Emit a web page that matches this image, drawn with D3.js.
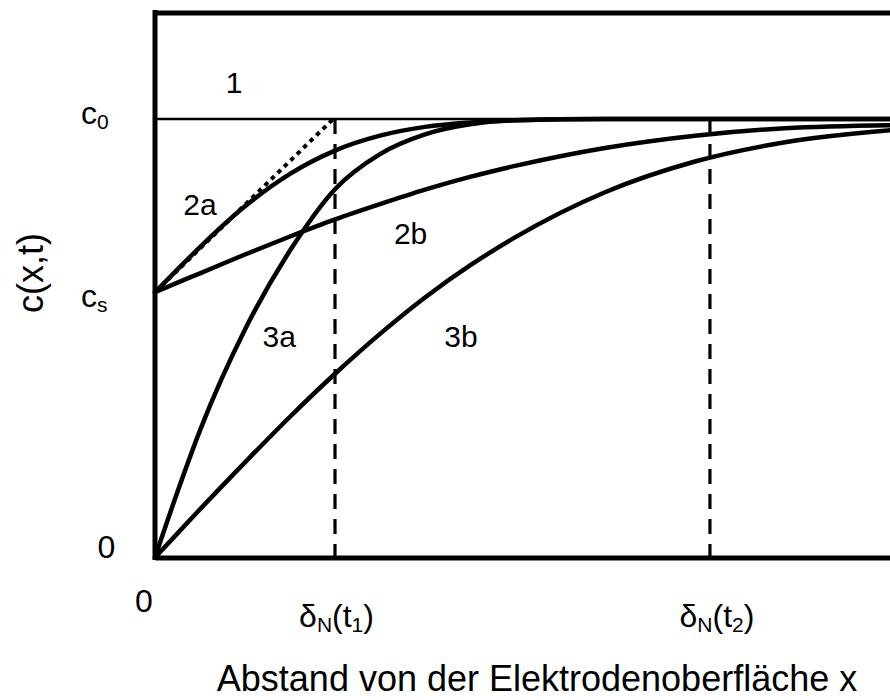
<!DOCTYPE html>
<html><head><meta charset="utf-8">
<script src="https://cdn.jsdelivr.net/npm/d3@7"></script>
<style>
body{margin:0;background:#fff}
svg{display:block}
text{font-family:"Liberation Sans",Arial,Helvetica,sans-serif;fill:#000}
</style>
</head><body>
<svg id="chart" width="890" height="700"></svg>
<script>
// ---- data ----
const xValues   = [0, 0.125, 0.25, 0.5, 0.75, 1, 1.25, 1.5, 1.75, 2, 2.5, 3, 3.5, 4.1];
const curve1    = [1, 1, 1, 1, 1, 1, 1, 1, 1, 1, 1, 1, 1, 1];
const curve2a   = [0.605, 0.657, 0.708, 0.801, 0.875, 0.928, 0.962, 0.982, 0.992, 0.997, 1.0, 1.0, 1.0, 1.0];
const curve2b   = [0.605, 0.627, 0.648, 0.691, 0.732, 0.771, 0.806, 0.839, 0.868, 0.893, 0.934, 0.962, 0.979, 0.986];
const curve3a   = [0, 0.15, 0.29, 0.52, 0.70, 0.84, 0.92, 0.965, 0.988, 0.997, 1.0, 1.0, 1.0, 1.0];
const curve3b   = [0, 0.055, 0.110, 0.217, 0.321, 0.419, 0.510, 0.593, 0.666, 0.730, 0.833, 0.903, 0.947, 0.975];
const tangentX  = [0, 0.99];
const tangentY  = [0.605, 1.0];
const deltaN    = [1.0, 3.083];
const deltaSub  = ["1", "2"];
const cS = 0.605, c0 = 1.0, yTop = 1.243;
const curveNames = ["1", "2a", "2b", "3a", "3b"];
const labelX = [0.44, 0.25, 1.42, 0.69, 1.70];
const labelY = [1.06, 0.78, 0.715, 0.48, 0.48];

// ---- scales ----
const svg = d3.select("#chart");
const x = d3.scaleLinear().domain([0, 4.1]).range([155, 893]);
const y = d3.scaleLinear().domain([0, 1]).range([557.5, 119]);

// ---- axes / frame ----
const frame = svg.append("g");
frame.append("g").attr("transform", `translate(0,${y(0)})`)
  .call(d3.axisBottom(x).tickValues([]).tickSizeOuter(0));
frame.append("g").attr("transform", `translate(0,${y(yTop)})`)
  .call(d3.axisTop(x).tickValues([]).tickSizeOuter(0));
frame.append("g").attr("transform", `translate(${x(0)},0)`)
  .call(d3.axisLeft(y).tickValues([]).tickSizeOuter(0))
  .select(".domain").attr("d", `M0,${y(0)+2.5}V${y(yTop)-2.5}`);
frame.selectAll(".domain").attr("stroke", "#000").attr("stroke-width", 5).attr("fill", "none");

// ---- c0 line (curve 1) ----
const line = d3.line().x((d,i) => x(xValues[i])).y(d => y(d)).curve(d3.curveMonotoneX);
svg.append("path").attr("d", line(curve1)).attr("fill","none").attr("stroke","#000").attr("stroke-width",2.5);

// ---- dashed delta lines ----
svg.selectAll(".dl").data(deltaN).join("line")
  .attr("x1", d => x(d)).attr("x2", d => x(d))
  .attr("y1", y(c0)).attr("y2", y(0))
  .attr("stroke","#000").attr("stroke-width",3.2).attr("stroke-dasharray","15,10");

// ---- tangent (dotted) ----
svg.append("line")
  .attr("x1", x(tangentX[0])).attr("y1", y(tangentY[0]))
  .attr("x2", x(tangentX[1])).attr("y2", y(tangentY[1]))
  .attr("stroke","#000").attr("stroke-width",4).attr("stroke-dasharray","4.5,4.5");

// ---- curves ----
[curve2a, curve2b, curve3a, curve3b].forEach(c => {
  svg.append("path").attr("d", line(c)).attr("fill","none")
    .attr("stroke","#000").attr("stroke-width",4.5).attr("stroke-linecap","round");
});

// ---- curve labels ----
svg.selectAll(".cl").data(curveNames).join("text")
  .attr("x", (d,i) => x(labelX[i])).attr("y", (d,i) => y(labelY[i]))
  .attr("text-anchor","middle").attr("font-size", 30).text(d => d);

// ---- helper for subscripted text ----
function subText(g, px, py, parts, size, subSize, anchor) {
  const t = g.append("text").attr("x", px).attr("y", py)
    .attr("text-anchor", anchor).attr("font-size", size);
  let down = false;
  parts.forEach(p => {
    const ts = t.append("tspan").text(p.t);
    if (p.sub) { ts.attr("font-size", subSize).attr("dy", down ? 0 : 5); down = true; }
    else { ts.attr("dy", down ? -5 : 0); down = false; }
  });
  return t;
}

// ---- y tick labels ----
svg.append("text").attr("x", 106.5).attr("y", y(0)).attr("text-anchor","middle")
  .attr("font-size", 32).text("0");
subText(svg, 81, y(c0) + 5, [{t:"c"},{t:"0",sub:true}], 32, 21, "start");
subText(svg, 81, y(cS) + 15, [{t:"c"},{t:"s",sub:true}], 32, 21, "start");

// ---- x tick labels ----
svg.append("text").attr("x", x(0) - 11).attr("y", 612).attr("text-anchor","middle")
  .attr("font-size", 32).text("0");
deltaN.forEach((d,i) => {
  subText(svg, x(d) + (i === 0 ? 1.5 : 7), 627,
    [{t:"δ"},{t:"N",sub:true},{t:"(t"},{t:deltaSub[i],sub:true},{t:")"}], 32, 21, "middle");
});

// ---- axis titles ----
svg.append("text").attr("x", 537).attr("y", 691).attr("text-anchor","middle")
  .attr("font-size", 36).text("Abstand von der Elektrodenoberfläche x");
svg.append("text").attr("transform","translate(43,273) rotate(-90)")
  .attr("text-anchor","middle").attr("font-size", 36).text("c(x,t)");
</script>
</body></html>
